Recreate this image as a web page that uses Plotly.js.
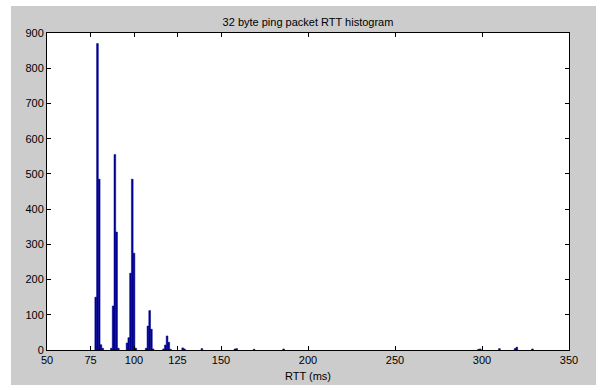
<!DOCTYPE html>
<html>
<head>
<meta charset="utf-8">
<script src="https://cdn.plot.ly/plotly-3.0.1.min.js"></script>
<style>
  html, body { margin: 0; padding: 0; background: #ffffff; }
  #chart { position: absolute; left: 11px; top: 6px; width: 585px; height: 379px; }
</style>
</head>
<body>
<div id="chart"></div>
<script>
// RTT bin centres (ms), 1 ms bins, only non-empty bins listed
var rttBins = [78, 79, 80, 81, 82,
               87, 88, 89, 90, 91,
               96, 97, 98, 99, 100, 101,
               107, 108, 109, 110, 111,
               117, 118, 119, 120, 121,
               128, 129, 139, 158, 159, 169, 186,
               298, 299, 310, 319, 320, 329];
var counts  = [150, 870, 485, 15, 5,
               5, 125, 555, 335, 5,
               20, 35, 218, 485, 275, 5,
               5, 68, 112, 59, 3,
               3, 14, 40, 22, 2,
               6, 3, 4, 3, 4, 2, 3,
               2, 3, 4, 4, 8, 3];
var xTicks = [50, 75, 100, 125, 150, 200, 250, 300, 350];
var yTicks = [0, 100, 200, 300, 400, 500, 600, 700, 800, 900];

var trace = {
  type: 'bar',
  x: rttBins,
  y: counts,
  width: 1,
  marker: { color: '#00008f', line: { color: '#00008f', width: 0.5 } },
  hoverinfo: 'x+y'
};

var tickFont = { family: 'Liberation Sans, Arial, sans-serif', size: 11, color: '#000000' };

var layout = {
  paper_bgcolor: '#cccccc',
  plot_bgcolor: '#ffffff',
  margin: { l: 36, r: 27, t: 27, b: 35 },
  showlegend: false,
  bargap: 0,
  title: {
    text: '32 byte ping packet RTT histogram',
    font: { family: 'Liberation Sans, Arial, sans-serif', size: 11, color: '#000000' },
    x: 0.5, xref: 'paper', xanchor: 'center',
    y: 1, yref: 'paper', yanchor: 'bottom', pad: { b: 7 }
  },
  xaxis: {
    range: [50, 350],
    tickmode: 'array',
    tickvals: xTicks,
    ticktext: xTicks.map(String),
    ticks: 'inside', ticklen: 4, tickcolor: '#000000', tickwidth: 1,
    showline: true, linecolor: '#000000', linewidth: 1, mirror: 'ticks',
    showgrid: false, zeroline: false,
    tickfont: tickFont,
    title: { text: 'RTT (ms)', font: tickFont, standoff: 7 }
  },
  yaxis: {
    range: [0, 900],
    tickmode: 'array',
    tickvals: yTicks,
    ticktext: yTicks.map(String),
    ticks: 'inside', ticklen: 4, tickcolor: '#000000', tickwidth: 1,
    showline: true, linecolor: '#000000', linewidth: 1, mirror: 'ticks',
    showgrid: false, zeroline: false,
    tickfont: tickFont
  }
};

Plotly.newPlot('chart', [trace], layout, { staticPlot: true, displayModeBar: false });
</script>
</body>
</html>
